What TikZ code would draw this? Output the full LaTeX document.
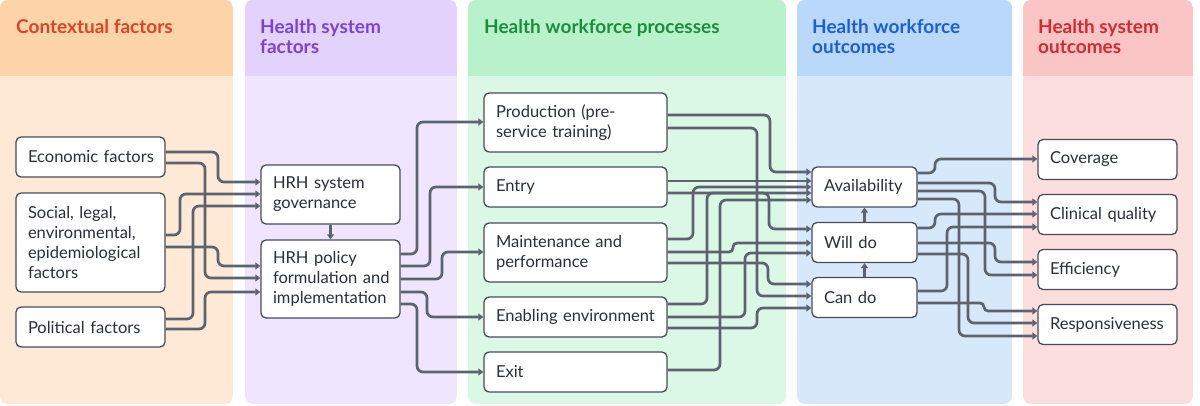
\documentclass[tikz,border=0pt]{standalone}
\usepackage{fontspec}
\setmainfont{Lato}
\usetikzlibrary{arrows.meta}
\definecolor{hA}{HTML}{FDD3A8}\definecolor{bA}{HTML}{FEE9D6}\definecolor{tA}{HTML}{D8452A}
\definecolor{hB}{HTML}{E3D2FB}\definecolor{bB}{HTML}{EFE5FE}\definecolor{tB}{HTML}{7B42D8}
\definecolor{hC}{HTML}{B7F2CC}\definecolor{bC}{HTML}{DAF8E5}\definecolor{tC}{HTML}{1E8C3A}
\definecolor{hD}{HTML}{BAD8FA}\definecolor{bD}{HTML}{D8E8FB}\definecolor{tD}{HTML}{1B5FD6}
\definecolor{hE}{HTML}{FBC5C5}\definecolor{bE}{HTML}{FDDEDE}\definecolor{tE}{HTML}{D42A2F}
\definecolor{boxline}{HTML}{474D57}
\definecolor{linec}{HTML}{5C636E}
\definecolor{textc}{HTML}{2B2F36}
\tikzset{
  box/.style={draw=boxline, line width=1.3pt, fill=white, rounded corners=5pt,
    inner xsep=12pt, inner ysep=0pt, align=left, text=textc,
    font=\fontsize{16.5}{20}\selectfont},
  wA/.style={minimum width=149pt, text width=125pt},
  wB/.style={minimum width=139pt, text width=115pt},
  wC/.style={minimum width=183pt, text width=159pt},
  wD/.style={minimum width=105pt, text width=81pt},
  conn/.style={draw=linec, line width=2.7pt, -{Triangle[length=5pt,width=7pt]}},
  hdr/.style={anchor=north west, inner sep=0pt, align=left,
    font=\fontsize{19}{20}\selectfont\bfseries},
}
\newcommand\lnk[6][6pt]{\draw[conn,rounded corners=#1] (#2.east |- 0,#3) -| (#4,#6) -- (#5.west |- 0,#6);}
\newcommand\colbg[4]{%
  \begin{scope}
    \clip[rounded corners=8pt] (#1,0) rectangle (#2,404);
    \fill[#4] (#1,0) rectangle (#2,404);
    \fill[#3] (#1,0) rectangle (#2,76);
  \end{scope}}
\begin{document}
\begin{tikzpicture}[x=1pt,y=-1pt]
\useasboundingbox (0,0) rectangle (1200,406);
\fill[white] (0,0) rectangle (1200,406);
% column backgrounds
\colbg{0}{233}{hA}{bA}
\colbg{245}{457}{hB}{bB}
\colbg{468}{786}{hC}{bC}
\colbg{797}{1012}{hD}{bD}
\colbg{1023}{1193}{hE}{bE}
% headers
\node[hdr, text=tA] (h1) at (16,19) {Contextual factors};
\node[hdr, text=tB] (h2) at (260,19) {Health system\\factors};
\node[hdr, text=tC] (h3) at (484,19) {Health workforce processes};
\node[hdr, text=tD] (h4) at (812,19) {Health workforce\\outcomes};
\node[hdr, text=tE] (h5) at (1038,19) {Health system\\outcomes};
% boxes
\node[box, wA, minimum height=40pt] (econ) at (90.5,157) {\mbox{Economic factors}};
\node[box, wA, minimum height=99pt] (social) at (90.5,242.5) {Social, legal,\\environmental,\\epidemiological\\factors};
\node[box, wA, minimum height=40pt] (polit) at (90.5,327) {\mbox{Political factors}};
\node[box, wB, minimum height=59pt] (gov) at (330.5,194.5) {\mbox{HRH system}\\governance};
\node[box, wB, minimum height=78pt] (policy) at (330.5,279) {\mbox{HRH policy}\\\mbox{formulation and}\\\mbox{implementation}};
\node[box, wC, minimum height=59pt] (prod) at (575.5,122.5) {\mbox{Production (pre-}\\\mbox{service training)}};
\node[box, wC, minimum height=40pt] (entry) at (575.5,187) {Entry};
\node[box, wC, minimum height=59pt] (maint) at (575.5,252.5) {\mbox{Maintenance and}\\performance};
\node[box, wC, minimum height=40pt] (enab) at (575.5,317) {\mbox{Enabling environment}};
\node[box, wC, minimum height=40pt] (exit) at (575.5,372) {Exit};
\node[box, wD, minimum height=40pt] (avail) at (864.5,187) {\mbox{Availability}};
\node[box, wD, minimum height=40pt] (will) at (864.5,242.5) {\mbox{Will do}};
\node[box, wD, minimum height=40pt] (can) at (864.5,297.5) {\mbox{Can do}};
\node[box, wB, minimum height=40pt] (cov) at (1107.5,159.5) {\mbox{Coverage}};
\node[box, wB, minimum height=40pt] (clin) at (1107.5,214.5) {\mbox{Clinical quality}};
\node[box, wB, minimum height=40pt] (effi) at (1107.5,269.5) {\mbox{Efficiency}};
\node[box, wB, minimum height=40pt] (resp) at (1107.5,324.5) {\mbox{Responsiveness}};
% contextual -> health system
\lnk{econ}{152}{218}{gov}{182}
\lnk{econ}{163}{205}{policy}{278}
\lnk{social}{235}{180}{gov}{194}
\lnk{social}{247}{218}{policy}{266}
\lnk{polit}{319}{193}{gov}{206}
\lnk{polit}{329}{205}{policy}{292}
\draw[conn] (gov.south) -- (policy.north);
% policy -> processes
\lnk{policy}{254}{417}{prod}{122}
\lnk{policy}{266}{430}{entry}{187}
\lnk{policy}{279}{442}{maint}{252}
\lnk{policy}{292}{427}{enab}{317}
\lnk{policy}{304}{417}{exit}{372}
% processes -> workforce outcomes
\lnk{prod}{115}{770}{avail}{172}
\lnk{prod}{128}{757}{can}{296}
\draw[conn] (entry.east |- 0,181) -- (avail.west |- 0,181);
\lnk{entry}{193}{769}{will}{229}
\lnk{maint}{239}{693}{avail}{187}
\lnk[4pt]{maint}{252}{733}{will}{243}
\lnk{maint}{263}{768}{can}{284}
\lnk{enab}{304}{707}{avail}{193}
\lnk{enab}{317}{745}{will}{253}
\lnk{enab}{328}{757}{can}{308}
\lnk{exit}{370}{720}{avail}{200}
\draw[conn] (will.north) -- (avail.south);
\draw[conn] (can.north) -- (will.south);
% workforce outcomes -> system outcomes
\lnk{avail}{173}{935}{cov}{159}
\lnk{avail}{183}{995}{clin}{202}
\lnk{avail}{191}{985}{effi}{275}
\lnk{avail}{199}{959}{resp}{336}
\lnk{will}{228}{935}{clin}{214}
\lnk{will}{243}{995}{effi}{262}
\lnk{will}{254}{968}{resp}{323}
\lnk{can}{291}{947}{clin}{227}
\lnk[4pt]{can}{303}{984}{resp}{311}
\end{tikzpicture}
\end{document}
